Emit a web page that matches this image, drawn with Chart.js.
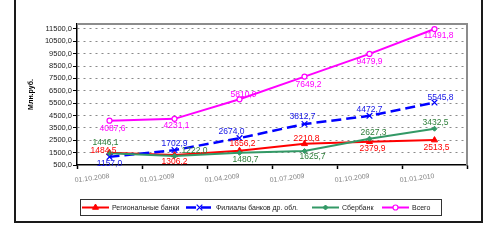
<!DOCTYPE html>
<html>
<head>
<meta charset="utf-8">
<script src="https://cdn.jsdelivr.net/npm/chart.js@4.4.1/dist/chart.umd.min.js"></script>
<style>
  html, body { margin: 0; padding: 0; background: #fff; }
  #wrap { position: relative; width: 499px; height: 240px; overflow: hidden; }
  #frame { position: absolute; left: 14px; top: -10px; width: 469px; height: 233px; border: 2px solid #1a1a1a; box-sizing: border-box; }
  canvas { position: absolute; left: 0; top: 0; }
</style>
</head>
<body>
<div id="wrap">
  <div id="frame"></div>
  <canvas id="chart" width="499" height="240"></canvas>
</div>
<script>
// ── data ──
const dates = ['01.10.2008', '01.01.2009', '01.04.2009', '01.07.2009', '01.10.2009', '01.01.2010'];
const regional = [1484.5, 1306.2, 1656.2, 2210.8, 2379.9, 2513.5];
const branches = [1157.0, 1702.9, 2674.0, 3812.7, 4472.7, 5545.8];
const sberbank = [1446.1, 1222.0, 1480.7, 1625.7, 2627.3, 3432.5];
const total = [4087.6, 4231.1, 5810.9, 7649.2, 9479.9, 11491.8];
const yTicks = [500, 1500, 2500, 3500, 4500, 5500, 6500, 7500, 8500, 9500, 10500, 11500];
const seriesNames = ['Региональные банки', 'Филиалы банков др. обл.', 'Сбербанк', 'Всего'];

// where each value label sits relative to its point (px)
const labelOffsets = [
  [[-6, -2], [0, 7], [3, -7], [2, -5], [3, 7], [2, 8]],
  [[0, 7], [0, -6], [-8, -6], [-2, -7], [0, -6], [6, -5]],
  [[-4, -11], [20, -5], [6, 7], [8, 6], [4, -6], [1, -6]],
  [[3, 8], [2, 7], [4, -5], [4, 8], [0, 8], [4, 7]]
];
const labelColors = ['#ff0000', '#1414e6', '#2f7f3a', '#ff00ff'];
const FONT = "'Liberation Sans', Arial, sans-serif";

const fmt = v => v.toFixed(1).replace('.', ',');

// value labels, axis title, plot frame, legend
const extras = {
  id: 'extras',
  afterDatasetsDraw(chart) {
    const ctx = chart.ctx;
    const area = chart.chartArea;
    ctx.save();
    // grey top/right plot border
    ctx.strokeStyle = '#8c8c8c';
    ctx.lineWidth = 2;
    ctx.beginPath();
    ctx.moveTo(area.left, area.top);
    ctx.lineTo(area.right, area.top);
    ctx.lineTo(area.right, area.bottom);
    ctx.stroke();

    // value labels
    ctx.font = '8.5px ' + FONT;
    ctx.textAlign = 'center';
    ctx.textBaseline = 'middle';
    chart.data.datasets.forEach((ds, i) => {
      const meta = chart.getDatasetMeta(i);
      ctx.fillStyle = labelColors[i];
      meta.data.forEach((pt, j) => {
        const off = labelOffsets[i][j];
        ctx.fillText(fmt(ds.data[j]), pt.x + off[0], pt.y + off[1]);
      });
    });

    // y-axis title
    ctx.save();
    ctx.translate(31, (area.top + area.bottom) / 2);
    ctx.rotate(-Math.PI / 2);
    ctx.fillStyle = '#000';
    ctx.font = 'bold 7px ' + FONT;
    ctx.fillText('Млн.руб.', 0, 0);
    ctx.restore();

    // legend
    ctx.strokeStyle = '#333';
    ctx.lineWidth = 1;
    ctx.strokeRect(80.5, 199.5, 361, 16);
    const ly = 207.5;
    const starts = [82, 186, 312, 382];
    ctx.font = '7px ' + FONT;
    ctx.textAlign = 'left';
    chart.data.datasets.forEach((ds, i) => {
      const x0 = starts[i];
      ctx.save();
      ctx.strokeStyle = ds.borderColor;
      ctx.lineWidth = ds.borderWidth;
      ctx.setLineDash(ds.borderDash || []);
      ctx.beginPath();
      ctx.moveTo(x0, ly);
      ctx.lineTo(x0 + 27, ly);
      ctx.stroke();
      ctx.setLineDash([]);
      ctx.fillStyle = ds.pointBackgroundColor;
      ctx.strokeStyle = ds.pointBorderColor;
      ctx.lineWidth = ds.pointBorderWidth;
      Chart.helpers.drawPoint(ctx, {
        pointStyle: ds.pointStyle, radius: ds.pointRadius, rotation: 0, borderWidth: ds.pointBorderWidth
      }, x0 + 13.5, ly);
      ctx.restore();
      ctx.fillStyle = '#222';
      ctx.fillText(seriesNames[i], x0 + 30, ly + 0.5);
    });
    ctx.restore();
  }
};

new Chart(document.getElementById('chart'), {
  type: 'line',
  data: {
    labels: dates,
    datasets: [
      {
        data: regional, borderColor: '#ff0000', borderWidth: 2,
        pointStyle: 'triangle', pointRadius: 3.5, pointBackgroundColor: '#ff0000', pointBorderColor: '#ff0000', pointBorderWidth: 1,
        order: 3
      },
      {
        data: branches, borderColor: '#0000ff', borderWidth: 2.5, borderDash: [10, 5],
        pointStyle: 'crossRot', pointRadius: 4, pointBackgroundColor: '#0000ff', pointBorderColor: '#0000ff', pointBorderWidth: 1.2,
        order: 2
      },
      {
        data: sberbank, borderColor: '#339966', borderWidth: 2,
        pointStyle: 'rectRot', pointRadius: 2.5, pointBackgroundColor: '#339966', pointBorderColor: '#339966', pointBorderWidth: 1,
        order: 1
      },
      {
        data: total, borderColor: '#ff00ff', borderWidth: 2,
        pointStyle: 'circle', pointRadius: 2.5, pointBackgroundColor: '#ffffff', pointBorderColor: '#ff00ff', pointBorderWidth: 1.2,
        order: 0
      }
    ]
  },
  options: {
    responsive: false,
    animation: false,
    layout: { padding: { left: 18, right: 32, top: 24, bottom: 0 } },
    elements: { line: { tension: 0 } },
    plugins: { legend: { display: false }, tooltip: { enabled: false } },
    scales: {
      x: {
        offset: true,
        afterFit: s => { s.height = 75; },
        grid: { offset: true, drawOnChartArea: false, tickLength: 4, tickColor: '#000', tickWidth: 1.5 },
        border: { color: '#000', width: 1.5 },
        ticks: {
          autoSkip: false, minRotation: 7, maxRotation: 7, padding: 3,
          color: '#7f7f7f', font: { size: 7, family: FONT }
        }
      },
      y: {
        min: 500, max: 11900,
        afterFit: s => { s.width = 59; },
        afterBuildTicks: s => { s.ticks = yTicks.map(v => ({ value: v })); },
        grid: {
          color: c => (c.tick && c.tick.value === 500) ? 'rgba(0,0,0,0)' : '#8a8a8a',
          lineWidth: 1, tickLength: 4, tickColor: '#000', tickWidth: 1
        },
        border: { color: '#000', width: 1.5, dash: [2, 4] },
        ticks: {
          padding: 1, color: '#1a1a1a', font: { size: 7.5, family: FONT },
          callback: v => fmt(v)
        }
      }
    }
  },
  plugins: [extras]
});
</script>
</body>
</html>
